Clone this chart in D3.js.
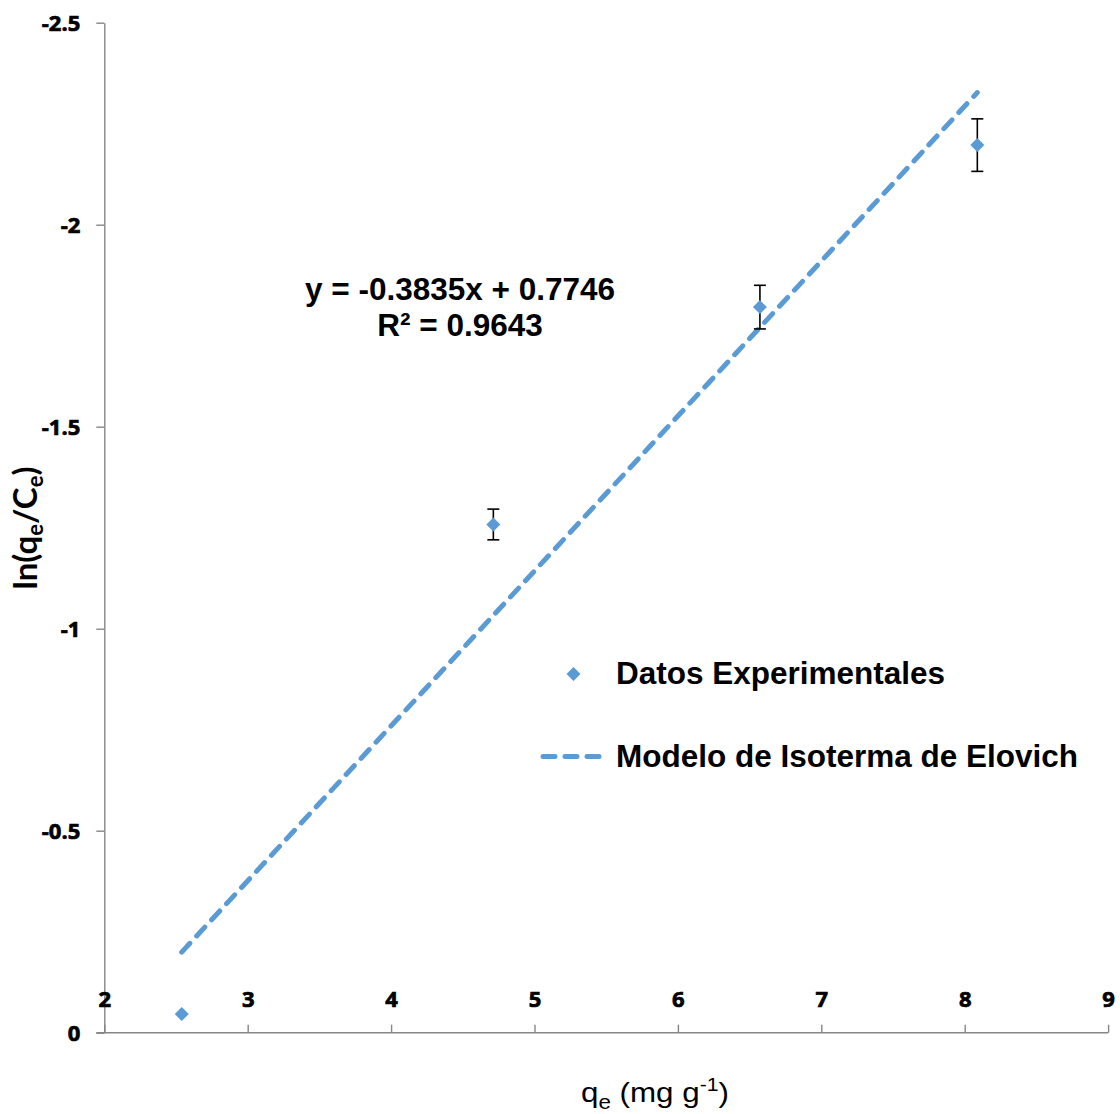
<!DOCTYPE html>
<html>
<head>
<meta charset="utf-8">
<script src="https://cdn.jsdelivr.net/npm/d3@7"></script>
<style>
  html, body { margin: 0; padding: 0; background: #fff; }
  svg { display: block; }
  .tick text { font-family: "Open Sans", Lato, sans-serif; font-weight: 700; font-size: 22px; fill: #000; stroke: #000; stroke-width: 0.7px; }
  .arial { font-family: "Liberation Sans", Arial, sans-serif; }
</style>
</head>
<body>
<svg id="chart" width="1120" height="1114"></svg>
<script>
// Experimental points: q_e (mg/g) and ln(q_e/C_e), with error bar half-widths
const qe = [2.54, 4.713, 6.572, 8.088];
const lnRatio = [-0.046, -1.258, -1.796, -2.197];
const errHalf = [0, 0.038, 0.054, 0.065];

// Linear fit (Elovich isotherm)
const slope = -0.3835;
const intercept = 0.7746;
const r2 = 0.9643;

const xTicks = [2, 3, 4, 5, 6, 7, 8, 9];
const yTicks = [0, -0.5, -1, -1.5, -2, -2.5];
const yTickLabels = ["0", "-0.5", "-1", "-1.5", "-2", "-2.5"];

const seriesNames = ["Datos Experimentales", "Modelo de Isoterma de Elovich"];

const blue = "#5B9BD5";
const axisGray = "#868686";

const svg = d3.select("#chart");

const x = d3.scaleLinear().domain([2, 9]).range([104.3, 1108.1]);
const y = d3.scaleLinear().domain([0, -2.5]).range([1032.7, 22.7]);

// Y axis (reversed: 0 at the bottom, -2.5 at the top)
const yAxis = d3.axisLeft(y)
  .tickValues(yTicks)
  .tickFormat((d, i) => yTickLabels[i])
  .tickSize(8)
  .tickSizeOuter(0)
  .tickPadding(16);
const gy = svg.append("g").attr("transform", `translate(${x(2)},0)`).call(yAxis);
gy.selectAll("path, line").attr("stroke", axisGray).attr("stroke-width", 1.4);
gy.selectAll(".tick text").attr("dy", "0.36em");

// X axis crossing at y = 0, labels drawn above the line
const xAxis = d3.axisTop(x)
  .tickValues(xTicks)
  .tickFormat(d3.format("d"))
  .tickSize(8)
  .tickSizeOuter(0)
  .tickPadding(18);
const gx = svg.append("g").attr("transform", `translate(0,${y(0)})`).call(xAxis);
gx.selectAll("path, line").attr("stroke", axisGray).attr("stroke-width", 1.4);
// extend the base line to the left tick length
gx.select(".domain").attr("d", `M${x(2) - 8},0H${x(9)}`);

// Trend line across the data range
const xFit = [d3.min(qe), d3.max(qe)];
svg.append("line")
  .attr("x1", x(xFit[0])).attr("y1", y(slope * xFit[0] + intercept))
  .attr("x2", x(xFit[1])).attr("y2", y(slope * xFit[1] + intercept))
  .attr("stroke", blue)
  .attr("stroke-width", 5)
  .attr("stroke-linecap", "round")
  .attr("stroke-dasharray", "12 10");

// Error bars
const pts = qe.map((v, i) => ({ x: v, y: lnRatio[i], e: errHalf[i] }));
const eb = svg.append("g").selectAll("g").data(pts.filter(d => d.e > 0)).join("g")
  .attr("stroke", "#000").attr("stroke-width", 1.6);
eb.append("line")
  .attr("x1", d => x(d.x)).attr("x2", d => x(d.x))
  .attr("y1", d => y(d.y - d.e)).attr("y2", d => y(d.y + d.e));
eb.append("line")
  .attr("x1", d => x(d.x) - 6).attr("x2", d => x(d.x) + 6)
  .attr("y1", d => y(d.y - d.e)).attr("y2", d => y(d.y - d.e));
eb.append("line")
  .attr("x1", d => x(d.x) - 6).attr("x2", d => x(d.x) + 6)
  .attr("y1", d => y(d.y + d.e)).attr("y2", d => y(d.y + d.e));

// Diamond markers
const diamond = "M0,-7L7,0L0,7L-7,0Z";
svg.append("g").selectAll("path").data(pts).join("path")
  .attr("d", diamond)
  .attr("transform", d => `translate(${x(d.x)},${y(d.y)})`)
  .attr("fill", blue);

// Equation label
const eq = svg.append("text").attr("class", "arial")
  .attr("font-size", 31.5).attr("font-weight", 700).attr("text-anchor", "middle");
eq.append("tspan").attr("x", 460).attr("y", 300)
  .text(`y = ${slope}x + ${intercept}`);
eq.append("tspan").attr("x", 460).attr("y", 336)
  .text(`R² = ${r2}`);

// Legend
const lg = svg.append("g");
lg.append("path").attr("d", diamond).attr("transform", "translate(573.5,674)").attr("fill", blue);
lg.append("line").attr("x1", 543).attr("x2", 599).attr("y1", 756.5).attr("y2", 756.5)
  .attr("stroke", blue).attr("stroke-width", 5).attr("stroke-linecap", "round")
  .attr("stroke-dasharray", "12 10");
lg.selectAll("text").data(seriesNames).join("text")
  .attr("class", "arial")
  .attr("x", 616).attr("y", (d, i) => i === 0 ? 684 : 767)
  .attr("font-size", 31.5).attr("font-weight", 700)
  .text(d => d);

// Axis titles
const xt = svg.append("text").attr("class", "arial")
  .attr("transform", "translate(655,1102) scale(1.12,1)")
  .attr("text-anchor", "middle")
  .attr("font-size", 28).attr("fill", "#000");
xt.append("tspan").text("q");
xt.append("tspan").attr("font-size", 20).attr("dy", 7).text("e");
xt.append("tspan").attr("dy", -7).text(" (mg g");
xt.append("tspan").attr("font-size", 19).attr("dy", -11).text("-1");
xt.append("tspan").attr("dy", 11).text(")");

const yt = svg.append("text")
  .attr("transform", "translate(37,528) rotate(-90)")
  .attr("text-anchor", "middle")
  .attr("font-family", "Lato, 'Open Sans', sans-serif")
  .attr("font-weight", 700).attr("font-size", 33).attr("fill", "#000");
yt.append("tspan").text("ln(q");
yt.append("tspan").attr("font-size", 22).attr("dy", 6).text("e");
yt.append("tspan").attr("dy", -6).text("/C");
yt.append("tspan").attr("font-size", 22).attr("dy", 6).text("e");
yt.append("tspan").attr("dy", -6).text(")");
</script>
</body>
</html>
